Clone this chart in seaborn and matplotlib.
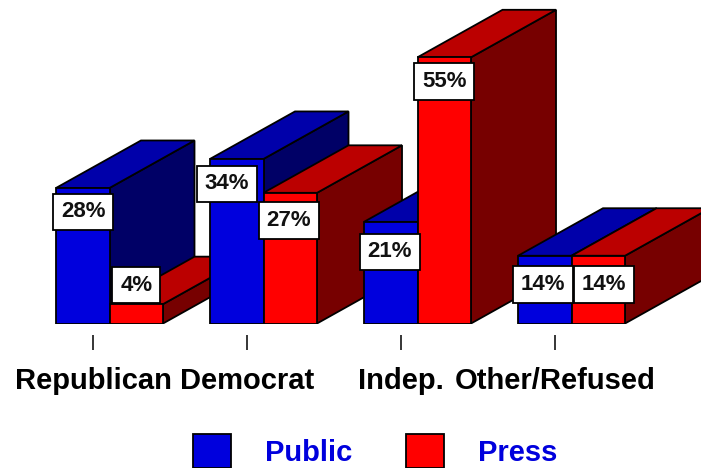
import matplotlib
matplotlib.use('Agg')
import matplotlib.pyplot as plt
import pandas as pd
import seaborn as sns
from matplotlib.patches import Polygon

# Chart data
groups = ['Republican', 'Democrat', 'Indep.', 'Other/Refused']
public = [28, 34, 21, 14]
press = [4, 27, 55, 14]

sns.set_theme(style='white')
plt.rcParams['font.family'] = ['Liberation Sans', 'DejaVu Sans']

df = pd.DataFrame({
    'group': groups * 2,
    'who': ['Public'] * 4 + ['Press'] * 4,
    'pct': public + press,
})

W, H = 701, 468
BASE = 323.5    # baseline, pixels from top
STEP = 154.0    # pixels per group
PER_PCT = 4.84  # pixels per percent
FIRST = 109.5   # pixel position of the first group centre

fig = plt.figure(figsize=(W / 100, H / 100), dpi=100)
ax = fig.add_axes([0, (H - BASE) / H, 1, BASE / H])

sns.barplot(data=df, x='group', y='pct', hue='who', hue_order=['Public', 'Press'],
            order=groups, palette={'Public': '#0000dd', 'Press': '#ff0000'},
            width=0.695, gap=0, saturation=1, edgecolor='black', linewidth=1.3, ax=ax)

ax.set_xlim(-FIRST / STEP, (W - FIRST) / STEP)
ax.set_ylim(0, BASE / PER_PCT)
ax.set_xlabel('')
ax.set_ylabel('')
ax.set_yticks([])

# Depth of the fake 3D boxes in data units
dx = 85 / STEP
dy = 47.5 / PER_PCT
shades = {'#0000dd': ('#0000aa', '#000066'), '#ff0000': ('#bb0000', '#770000')}

# seaborn also leaves empty patches for the legend, skip those
bars = sorted([b for b in ax.patches if b.get_height() > 0], key=lambda b: b.get_x())
# label box offsets from the top centre of each bar, in pixels
offsets = [(0.5, -24), (0, 19), (-10, -25), (-1.5, -27.5),
           (-1, -30), (0, -24), (-2, -29), (6, -29)]

z = 3
for bar, off in zip(bars, offsets):
    x0, w, h = bar.get_x(), bar.get_width(), bar.get_height()
    x1 = x0 + w
    face = matplotlib.colors.to_hex(bar.get_facecolor())
    top_c, side_c = shades[face]
    side = Polygon([(x1, 0), (x1 + dx, dy), (x1 + dx, h + dy), (x1, h)],
                   fc=side_c, ec='black', lw=1.3, zorder=z)
    top = Polygon([(x0, h), (x0 + dx, h + dy), (x1 + dx, h + dy), (x1, h)],
                  fc=top_c, ec='black', lw=1.3, zorder=z + 1)
    ax.add_patch(side)
    ax.add_patch(top)
    bar.set_zorder(z + 2)
    z += 3
    ax.annotate(f'{h:.0f}%', (x0 + w / 2, h), xytext=off, textcoords='offset pixels',
                ha='center', va='center', fontsize=16, fontweight='bold', color='#111111',
                zorder=100,
                bbox=dict(boxstyle='square,pad=0.35', fc='white', ec='black', lw=1.3))

# Tick marks sit a bit below the baseline and left of the group centre
sns.despine(ax=ax, left=True, bottom=False)
ax.spines['bottom'].set_position(('outward', 8.3))
ax.spines['bottom'].set_visible(False)
ax.set_xticks([i - 16.5 / STEP for i in range(4)], groups)
ax.tick_params(axis='x', bottom=True, length=10.8, width=1.1, color='black', pad=12.5,
               labelsize=21, labelcolor='black')
for lab in ax.get_xticklabels():
    lab.set_fontweight('bold')

sns.move_legend(ax, 'lower left', bbox_to_anchor=(193 / W, 0), bbox_transform=fig.transFigure,
                ncols=2, frameon=False, title=None, labelcolor='#0000dd',
                prop={'weight': 'bold', 'size': 21}, handlelength=1.31, handleheight=1.4,
                handletextpad=1.17, columnspacing=1.83, borderpad=0, borderaxespad=0)

fig.savefig('out.png', dpi=100)
